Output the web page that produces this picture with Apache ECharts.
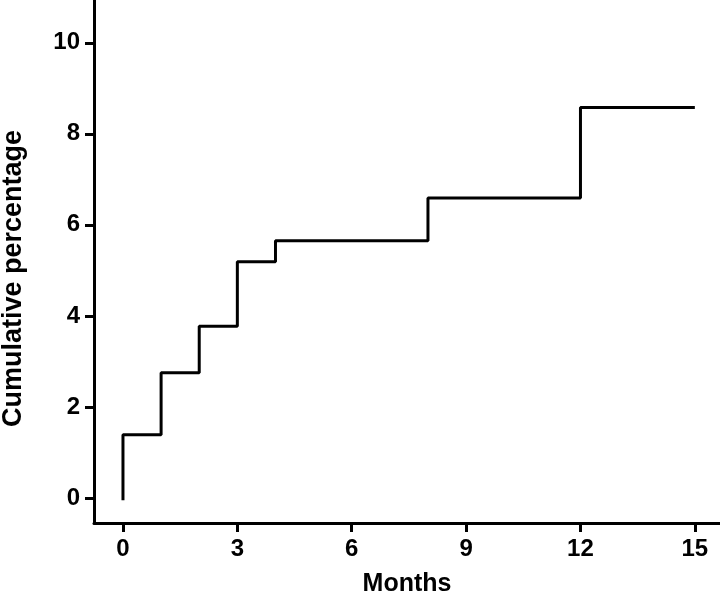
<!DOCTYPE html>
<html>
<head>
<meta charset="utf-8">
<script src="https://cdn.jsdelivr.net/npm/echarts@6/dist/echarts.min.js"></script>
<style>
  html, body { margin: 0; padding: 0; background: #fff; }
  #chart { width: 720px; height: 597px; }
</style>
</head>
<body>
<div id="chart"></div>
<script>
// step curve: month at which the cumulative percentage changes
const months = [0, 0, 1, 2, 3, 4, 8, 12, 15]
const cumPct = [-0.05, 1.39, 2.75, 3.77, 5.19, 5.65, 6.59, 8.58, 8.58]
const xTicks = [0, 3, 6, 9, 12, 15]
const yTicks = [0, 2, 4, 6, 8, 10]

const FONT = 'Liberation Sans'
const chart = echarts.init(document.getElementById('chart'), null, { renderer: 'canvas' })

const axisCommon = {
  axisLine: { show: true, onZero: false, lineStyle: { color: '#000', width: 3 } },
  axisTick: { show: true, length: 9, lineStyle: { color: '#000', width: 3 } },
  splitLine: { show: false },
  axisLabel: { color: '#000', fontFamily: FONT, fontWeight: 'bold', fontSize: 24 },
  nameLocation: 'middle',
  nameTextStyle: { color: '#000', fontFamily: FONT, fontWeight: 'bold', fontSize: 25 },
}

chart.setOption({
  animation: false,
  grid: { left: 94, right: 0, top: 0, bottom: 74, containLabel: false, outerBoundsMode: 'none' },
  xAxis: {
    ...axisCommon,
    type: 'value',
    min: -0.76,
    max: 15.66,
    name: 'Months',
    nameGap: 49,
    axisTick: { ...axisCommon.axisTick, customValues: xTicks },
    axisLabel: { ...axisCommon.axisLabel, margin: 14, customValues: xTicks },
  },
  yAxis: {
    ...axisCommon,
    type: 'value',
    min: -0.55,
    max: 10.94,
    name: 'Cumulative percentage',
    nameGap: 67,
    // extra right padding nudges the rotated title down the axis
    nameTextStyle: { ...axisCommon.nameTextStyle, fontSize: 27, padding: [0, 34, 0, 0] },
    axisTick: { ...axisCommon.axisTick, customValues: yTicks },
    axisLabel: { ...axisCommon.axisLabel, margin: 14, customValues: yTicks },
  },
  series: [
    {
      type: 'line',
      step: 'end',
      data: months.map((m, i) => [m, cumPct[i]]),
      symbol: 'none',
      lineStyle: { color: '#000', width: 3 },
    },
  ],
})
</script>
</body>
</html>
